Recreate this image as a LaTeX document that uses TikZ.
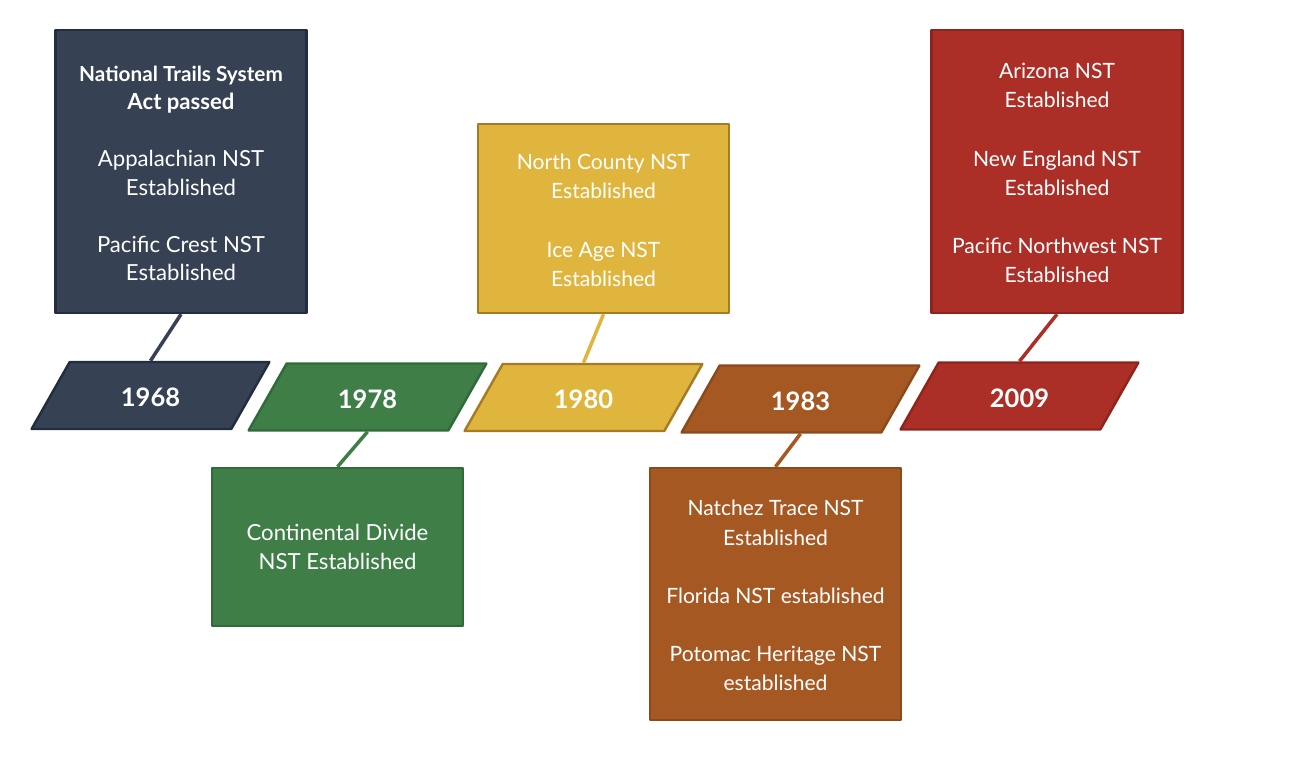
\documentclass[tikz,border=0pt]{standalone}
\usepackage{fontspec}
\setmainfont{Lato}
\usetikzlibrary{shapes.geometric}
\definecolor{navyc}{HTML}{364154}
\definecolor{greenc}{HTML}{3F7F47}
\definecolor{yellowc}{HTML}{E0B53E}
\definecolor{brownc}{HTML}{A65823}
\definecolor{redc}{HTML}{AB2E27}
\definecolor{navycedge}{HTML}{222D40}
\definecolor{greencedge}{HTML}{2F6B3A}
\definecolor{yellowcedge}{HTML}{A67B27}
\definecolor{browncedge}{HTML}{8A4A1C}
\definecolor{redcedge}{HTML}{8F241F}
\newcommand{\toplift}{\rule{0pt}{10.8pt}}
\tikzset{
	textbox/.style={draw=#1edge, fill=#1, line width=1.4pt, text=white, minimum width=251*0.02cm, align=center, inner sep=0pt, font=\fontsize{12}{16.6}\selectfont},
	bigtext/.style={font=\fontsize{12.6}{16.2}\selectfont},
	yearbox/.style={shape=trapezium, trapezium left angle=58, trapezium right angle=122, trapezium stretches=true, draw=#1edge, fill=#1, line width=1.4pt, text=white, minimum width=239*0.02cm, minimum height=67*0.02cm, inner sep=0pt, text height=12.7pt, text depth=0pt, font=\fontsize{14.5}{17}\selectfont\bfseries},
	stem/.style={draw=#1, line width=2pt}
}
\begin{document}
\begin{tikzpicture}[x=0.02cm, y=-0.02cm, line join=round]
	\useasboundingbox (0,0) rectangle (1300,761);
	% year markers
	\node[yearbox=navyc] (y1968) at (150.5,395.5) {1968};
	\node[yearbox=greenc] (y1978) at (367.5,397) {1978};
	\node[yearbox=yellowc] (y1980) at (583.5,397.5) {1980};
	\node[yearbox=brownc] (y1983) at (800.5,399) {1983};
	\node[yearbox=redc] (y2009) at (1019.5,396) {2009};
	% event boxes
	\node[textbox=navyc, bigtext, minimum height=283*0.02cm] (b1968) at (181,171.5) {\toplift\fontsize{11.8}{16.2}\selectfont\textbf{National Trails System}\\\textbf{Act passed}\\[\baselineskip]\fontsize{12.6}{16.2}\selectfont Appalachian NST\\Established\\[\baselineskip]Pacific Crest NST\\Established};
	\node[textbox=greenc, bigtext, minimum height=158*0.02cm] (b1978) at (337.5,547) {Continental Divide\\NST Established};
	\node[textbox=yellowc, minimum height=189*0.02cm] (b1980) at (603.5,218.5) {\toplift North County NST\\Established\\[\baselineskip]Ice Age NST\\Established};
	\node[textbox=brownc, minimum height=252*0.02cm] (b1983) at (775.5,594) {\toplift Natchez Trace NST\\Established\\[\baselineskip]Florida NST established\\[\baselineskip]Potomac Heritage NST\\established};
	\node[textbox=redc, minimum height=283*0.02cm] (b2009) at (1057,171.5) {\toplift Arizona NST\\Established\\[\baselineskip]New England NST\\Established\\[\baselineskip]Pacific Northwest NST\\Established};
	% stems
	\draw[stem=navyc] (b1968.south)--(y1968.north);
	\draw[stem=greenc] (y1978.south)--(b1978.north);
	\draw[stem=yellowc] (b1980.south)--(y1980.north);
	\draw[stem=brownc] (y1983.south)--(b1983.north);
	\draw[stem=redc] (b2009.south)--(y2009.north);
\end{tikzpicture}
\end{document}
